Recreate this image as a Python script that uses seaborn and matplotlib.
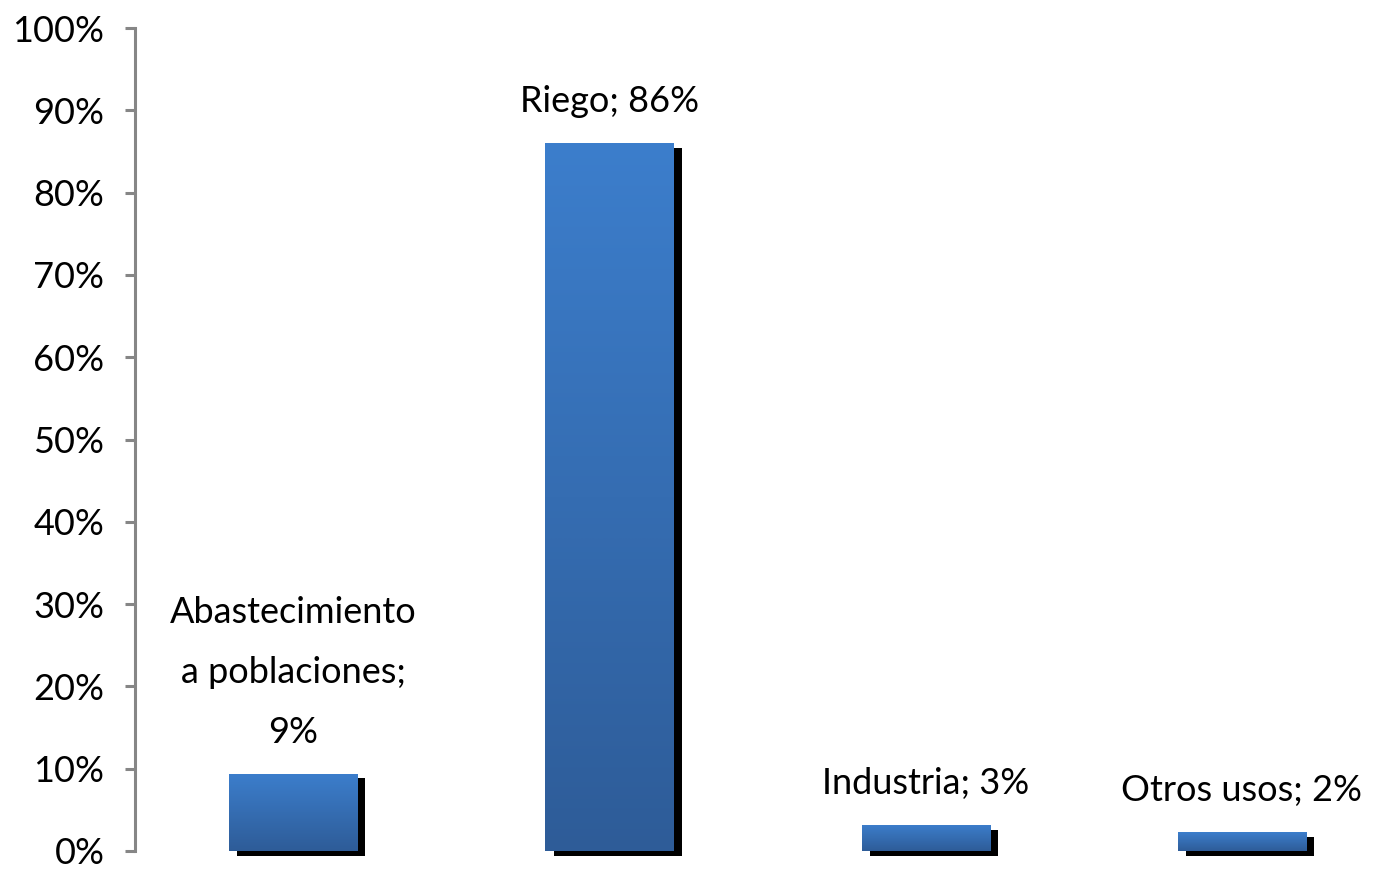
import numpy as np
import pandas as pd
import matplotlib
matplotlib.use("Agg")
import matplotlib.pyplot as plt
import matplotlib.patheffects as pe
from matplotlib.colors import LinearSegmentedColormap
import seaborn as sns

categories = ["Abastecimiento a poblaciones", "Riego", "Industria", "Otros usos"]
values = [9.4, 86.0, 3.2, 2.3]
labels = ["Abastecimiento\na poblaciones;\n9%", "Riego; 86%", "Industria; 3%", "Otros usos; 2%"]
yticks = [0, 10, 20, 30, 40, 50, 60, 70, 80, 90, 100]
ytick_labels = ["0%", "10%", "20%", "30%", "40%", "50%", "60%", "70%", "80%", "90%", "100%"]

sns.set_theme(style="white")
plt.rcParams['font.family'] = ['Lato', 'DejaVu Sans']

fig = plt.figure(figsize=(13.73, 8.69), dpi=100)
W, H = 1373, 869
ax = fig.add_axes([135 / W, (H - 851) / H, (1400 - 135) / W, (851 - 28) / H])

df = pd.DataFrame({"cat": categories, "val": values})
top_c = "#3C7ECC"
bot_c = "#2E5C98"
sns.barplot(data=df, x="cat", y="val", ax=ax, color=bot_c, width=0.405,
            saturation=1, edgecolor="none", linewidth=0)

cmap = LinearSegmentedColormap.from_list("g", [bot_c, top_c])
grad = np.linspace(0, 1, 256).reshape(-1, 1)
for p in ax.patches:
    p.set_clip_on(False)
    p.set_path_effects([pe.SimplePatchShadow(offset=(6, -3.5), shadow_rgbFace="black", alpha=1.0),
                        pe.Normal()])
    x0, y0 = p.get_x(), p.get_y()
    w, h = p.get_width(), p.get_height()
    im = ax.imshow(grad, cmap=cmap, origin="lower", aspect="auto",
                   extent=[x0, x0 + w, y0, y0 + h], zorder=p.get_zorder() + 0.1)
    im.set_clip_path(p)

for p, lab in zip(ax.patches, labels):
    ax.annotate(lab, (p.get_x() + p.get_width() / 2, p.get_height()),
                xytext=(0, 18), textcoords="offset points", ha="center", va="bottom",
                fontsize=26, linespacing=2.0, color="black")

ax.set_xlim(-0.5, 3.5)
ax.set_ylim(0, 100)
ax.set_yticks(yticks)
ax.set_yticklabels(ytick_labels)
ax.set_xticks([])
ax.set_xlabel("")
ax.set_ylabel("")
for s in ["top", "right", "bottom"]:
    ax.spines[s].set_visible(False)
ax.spines["left"].set_color("#868686")
ax.spines["left"].set_linewidth(2.2)
ax.tick_params(axis="y", direction="out", length=7, width=2.2, color="#868686",
               labelsize=26, pad=15, labelcolor="black", left=True)
ax.patch.set_alpha(0)

fig.savefig("out.png", dpi=100)
